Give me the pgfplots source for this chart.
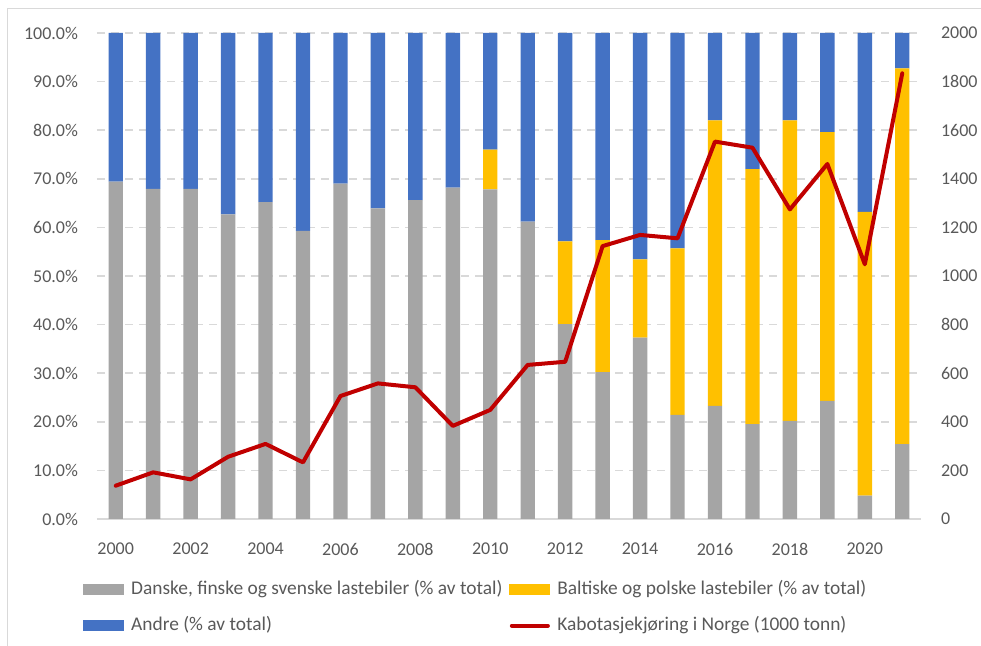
\documentclass[border=0pt]{standalone}
\usepackage{pgfplots}
\pgfplotsset{compat=1.18}
\usepackage{fontspec}
\setmainfont{Carlito}
\definecolor{cgray}{HTML}{A5A5A5}
\definecolor{cyel}{HTML}{FFC000}
\definecolor{cblue}{HTML}{4472C4}
\definecolor{cred}{HTML}{C00000}
\definecolor{ctext}{HTML}{595959}
\definecolor{cgrid}{HTML}{D9D9D9}
\begin{document}
\begin{tikzpicture}
\path[use as bounding box] (0pt,0pt) rectangle (490.5pt,323pt);
\draw[cgrid, line width=0.5pt] (3.5pt,0pt) -- (3.5pt,318.5pt) -- (490.5pt,318.5pt);
\begin{axis}[
  at={(48.5pt,63.5pt)}, anchor=south west, scale only axis,
  width=412pt, height=243pt,
  xmin=-0.5, xmax=21.5, ymin=0, ymax=100,
  ybar stacked, bar width=7.2pt,
  axis x line*=bottom, axis y line*=left,
  x axis line style={draw=cgrid, line width=0.75pt, -},
  y axis line style={draw=none},
  tick style={draw=none},
  xtick={0,2,...,20},
  xticklabels={2000,2002,2004,2006,2008,2010,2012,2014,2016,2018,2020},
  ytick={0,10,...,100},
  ymajorgrids,
  major grid style={cgrid, line width=0.75pt, dash pattern=on 4pt off 3pt},
  /pgf/number format/assume math mode=true,
  yticklabel={\pgfmathprintnumber[fixed,fixed zerofill,precision=1]{\tick}\%},
  tick label style={font=\fontsize{9}{11}\selectfont, text=ctext},
  yticklabel style={xshift=-6pt},
  xticklabel style={yshift=-8.5pt},
]
\addplot[fill=cgray, draw=none] coordinates {
(0,69.4) (1,67.9) (2,67.9) (3,62.7) (4,65.2) (5,59.3) (6,69.0) (7,63.9) (8,65.6) (9,68.2) (10,67.8)
(11,61.2) (12,40.1) (13,30.2) (14,37.3) (15,21.4) (16,23.3) (17,19.5) (18,20.2) (19,24.3) (20,4.8) (21,15.4)};
\addplot[fill=cyel, draw=none] coordinates {
(0,0) (1,0) (2,0) (3,0) (4,0) (5,0) (6,0) (7,0) (8,0) (9,0) (10,8.2)
(11,0) (12,17.0) (13,27.2) (14,16.1) (15,34.3) (16,58.7) (17,52.5) (18,61.8) (19,55.3) (20,58.4) (21,77.3)};
\addplot[fill=cblue, draw=none] coordinates {
(0,30.6) (1,32.1) (2,32.1) (3,37.3) (4,34.8) (5,40.7) (6,31.0) (7,36.1) (8,34.4) (9,31.8) (10,24.0)
(11,38.8) (12,42.9) (13,42.6) (14,46.6) (15,44.3) (16,18.0) (17,28.0) (18,18.0) (19,20.4) (20,36.8) (21,7.3)};
\end{axis}
\begin{axis}[
  at={(48.5pt,63.5pt)}, anchor=south west, scale only axis,
  width=412pt, height=243pt,
  xmin=-0.5, xmax=21.5, ymin=0, ymax=2000,
  hide x axis,
  axis y line*=right,
  y axis line style={draw=none},
  tick style={draw=none},
  ytick={0,200,...,2000},
  /pgf/number format/assume math mode=true,
  /pgf/number format/1000 sep={},
  tick label style={font=\fontsize{9}{11}\selectfont, text=ctext},
  yticklabel style={xshift=6.5pt},
  legend columns=2,
  legend cell align=left,
  legend style={draw=none, fill=none, inner sep=0pt,
    at={(-0.017,-0.126)}, anchor=north west,
    font=\fontsize{9.7}{11}\selectfont, text=ctext,
    nodes={inner sep=0pt, text height=7pt, text depth=2pt},
    column sep=3.5pt, row sep=9pt},
]
\addlegendimage{legend image code/.code={\fill[cgray] (0pt,-2.5pt) rectangle (20pt,2.5pt);}}
\addlegendentry{Danske, finske og svenske lastebiler (\% av total)}
\addlegendimage{legend image code/.code={\fill[cyel] (0pt,-2.5pt) rectangle (20pt,2.5pt);}}
\addlegendentry{Baltiske og polske lastebiler (\% av total)}
\addlegendimage{legend image code/.code={\fill[cblue] (0pt,-2.5pt) rectangle (20pt,2.5pt);}}
\addlegendentry{Andre (\% av total)}
\addplot[cred, line width=2pt, line join=round, line cap=round,
  legend image code/.code={\draw[cred, line width=2pt, line cap=round] (1pt,0pt) -- (19pt,0pt);}]
  coordinates {
(0,137) (1,192) (2,163) (3,256) (4,309) (5,233) (6,506) (7,558) (8,542) (9,383) (10,449)
(11,634) (12,647) (13,1123) (14,1169) (15,1155) (16,1553) (17,1528) (18,1274) (19,1461) (20,1048) (21,1834)};
\addlegendentry{Kabotasjekjøring i Norge (1000 tonn)}
\end{axis}
\end{tikzpicture}
\end{document}
